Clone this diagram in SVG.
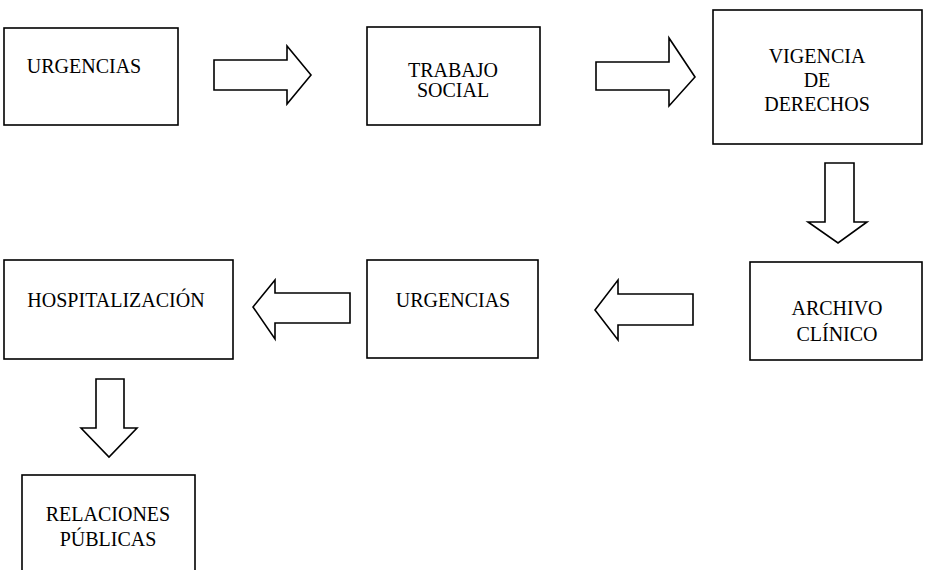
<svg xmlns="http://www.w3.org/2000/svg" width="925" height="570" viewBox="0 0 925 570">
  <style>
    .box { fill: #ffffff; stroke: #000000; stroke-width: 1.6; }
    .arrow { fill: #ffffff; stroke: #000000; stroke-width: 1.6; stroke-linejoin: miter; }
    .label { font-family: "Liberation Serif", "Times New Roman", serif; font-size: 20px; fill: #000000; text-anchor: middle; }
  </style>
  <rect width="925" height="570" fill="#ffffff"/>

  <g id="urgencias-1">
    <rect class="box" x="4" y="28" width="174" height="97"/>
    <text class="label" x="84" y="73">URGENCIAS</text>
  </g>

  <g id="trabajo-social">
    <rect class="box" x="367" y="27" width="173" height="98"/>
    <text class="label" x="453" y="77">TRABAJO</text>
    <text class="label" x="453" y="97">SOCIAL</text>
  </g>

  <g id="vigencia-derechos">
    <rect class="box" x="713" y="10" width="209" height="134"/>
    <text class="label" x="817" y="63">VIGENCIA</text>
    <text class="label" x="817" y="87">DE</text>
    <text class="label" x="817" y="111">DERECHOS</text>
  </g>

  <g id="archivo-clinico">
    <rect class="box" x="750" y="262" width="172" height="98"/>
    <text class="label" x="837" y="315">ARCHIVO</text>
    <text class="label" x="837" y="341">CLÍNICO</text>
  </g>

  <g id="urgencias-2">
    <rect class="box" x="367" y="260" width="171" height="98"/>
    <text class="label" x="453" y="307">URGENCIAS</text>
  </g>

  <g id="hospitalizacion">
    <rect class="box" x="4" y="260" width="229" height="99"/>
    <text class="label" x="116" y="307">HOSPITALIZACIÓN</text>
  </g>

  <g id="relaciones-publicas">
    <rect class="box" x="22" y="475" width="173" height="110"/>
    <text class="label" x="108" y="521">RELACIONES</text>
    <text class="label" x="108" y="546">PÚBLICAS</text>
  </g>

  <g id="connectors">
    <!-- block arrow: urgencias -> trabajo social -->
    <polygon class="arrow" points="214,60 287,60 287,46 311,75 287,104 287,90 214,90"/>
    <!-- block arrow: trabajo social -> vigencia de derechos -->
    <polygon class="arrow" points="596,62 669,62 669,38 695,77 669,106 669,90 596,90"/>
    <!-- block arrow: vigencia de derechos -> archivo clinico -->
    <polygon class="arrow" points="825,163 854,163 854,222 867,222 838,243 808,222 825,222"/>
    <!-- block arrow: archivo clinico -> urgencias -->
    <polygon class="arrow" points="693,294 618,294 618,280 595,310 618,340 618,325 693,325"/>
    <!-- block arrow: urgencias -> hospitalizacion -->
    <polygon class="arrow" points="350,293 275,293 275,280 253,307 275,339 275,323 350,323"/>
    <!-- block arrow: hospitalizacion -> relaciones publicas -->
    <polygon class="arrow" points="96,379 124,379 124,428 137,428 109,457 81,428 96,428"/>
  </g>
</svg>
